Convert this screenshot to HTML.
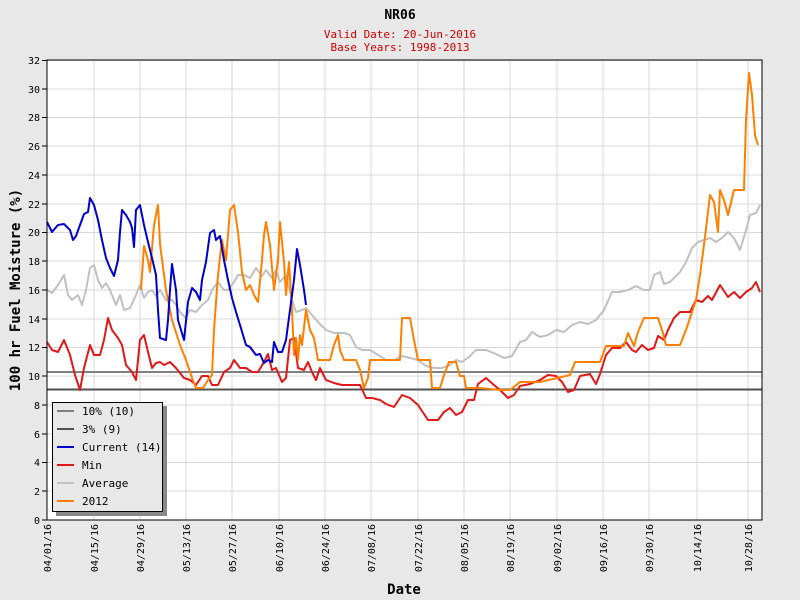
<!DOCTYPE html>
<html><head><meta charset="utf-8"><style>
body{margin:0;background:#e8e8e8;}
svg{display:block;font-family:"DejaVu Sans Mono","Liberation Mono",monospace;}
</style></head><body>
<svg width="800" height="600" viewBox="0 0 800 600">
<rect width="800" height="600" fill="#e8e8e8"/>
<rect x="47" y="60" width="715" height="460" fill="#fff"/>
<g stroke="#d8d8d8" stroke-width="1">
<line x1="47" x2="762" y1="60.5" y2="60.5"/><line x1="47" x2="762" y1="89" y2="89"/><line x1="47" x2="762" y1="117.5" y2="117.5"/><line x1="47" x2="762" y1="146" y2="146"/><line x1="47" x2="762" y1="175" y2="175"/><line x1="47" x2="762" y1="204" y2="204"/><line x1="47" x2="762" y1="232.5" y2="232.5"/><line x1="47" x2="762" y1="261" y2="261"/><line x1="47" x2="762" y1="290" y2="290"/><line x1="47" x2="762" y1="319" y2="319"/><line x1="47" x2="762" y1="347.5" y2="347.5"/><line x1="47" x2="762" y1="376" y2="376"/><line x1="47" x2="762" y1="405" y2="405"/><line x1="47" x2="762" y1="434" y2="434"/><line x1="47" x2="762" y1="462.5" y2="462.5"/><line x1="47" x2="762" y1="491" y2="491"/>
<line y1="60" y2="520" x1="94" x2="94"/><line y1="60" y2="520" x1="140" x2="140"/><line y1="60" y2="520" x1="186" x2="186"/><line y1="60" y2="520" x1="232" x2="232"/><line y1="60" y2="520" x1="279" x2="279"/><line y1="60" y2="520" x1="325" x2="325"/><line y1="60" y2="520" x1="371" x2="371"/><line y1="60" y2="520" x1="418" x2="418"/><line y1="60" y2="520" x1="464" x2="464"/><line y1="60" y2="520" x1="510" x2="510"/><line y1="60" y2="520" x1="557" x2="557"/><line y1="60" y2="520" x1="603" x2="603"/><line y1="60" y2="520" x1="649" x2="649"/><line y1="60" y2="520" x1="697" x2="697"/><line y1="60" y2="520" x1="748" x2="748"/>
</g>
<line x1="47" x2="762" y1="372" y2="372" stroke="#808080" stroke-width="2"/>
<line x1="47" x2="762" y1="389.5" y2="389.5" stroke="#505050" stroke-width="2"/>
<g fill="none" stroke-width="2" stroke-linejoin="round">
<polyline stroke="#c0c0c0" points="47,290 52,293 58,285 64,275 68,295 72,300 78,295 82,305 86,290 90,268 94,265 98,280 102,288 106,283 110,290 116,305 120,295 124,310 130,308 136,295 140,285 144,298 148,292 152,290 156,296 160,290 166,300 172,300 176,305 180,312 186,318 190,310 196,312 202,305 208,300 212,290 218,282 224,290 228,290 234,282 238,275 244,275 250,278 256,268 262,276 266,270 272,278 276,270 280,282 286,275 292,300 296,312 302,310 306,308 312,315 318,322 326,330 334,333 344,333 350,335 356,347 362,350 370,350 378,355 386,360 394,360 402,356 410,358 418,360 426,366 434,368 442,368 450,365 456,360 462,362 470,356 476,350 486,350 496,354 504,358 512,356 520,342 526,340 532,332 540,337 548,335 556,330 564,332 572,325 580,322 588,324 596,320 604,310 612,292 620,292 628,290 636,286 644,290 650,290 654,275 660,272 664,284 670,282 680,272 686,262 692,248 698,242 704,240 710,238 716,242 722,238 728,232 734,238 740,250 746,230 750,215 756,213 760,205"/>
<polyline stroke="#e01818" points="47,342 52,350 58,352 64,340 70,355 75,375 80,390 84,368 90,345 94,355 100,355 104,340 108,318 112,330 118,338 122,345 126,365 132,372 136,380 140,340 144,335 148,352 152,368 156,363 160,362 164,365 170,362 176,368 184,378 190,380 196,385 202,376 208,376 212,385 218,385 224,372 230,368 234,360 240,368 246,368 252,372 258,372 264,362 268,354 272,370 276,368 282,382 286,378 290,340 294,338 298,368 304,370 308,362 312,372 316,380 320,368 326,380 334,383 342,385 350,385 360,385 366,398 372,398 380,400 386,404 394,407 402,395 410,398 418,405 428,420 438,420 444,412 450,408 456,415 462,412 468,400 474,400 478,384 486,378 494,385 500,390 508,398 514,395 520,386 530,384 540,380 548,375 556,376 562,382 568,392 574,390 580,376 590,374 596,384 600,374 606,355 612,348 620,348 626,342 632,350 636,352 642,345 648,350 654,348 658,336 664,340 668,330 674,318 680,312 690,312 696,300 702,302 708,296 712,300 720,285 728,297 734,292 740,298 746,292 752,288 756,282 760,292"/>
<polyline stroke="#ff8000" points="141,290 144,246 148,260 150,272 154,225 158,205 160,244 166,290 172,320 180,345 186,360 192,378 196,388 203,388 208,380 212,375 214,330 218,275 222,240 226,260 230,210 234,205 238,232 242,272 246,290 250,285 254,295 258,302 262,260 264,235 266,222 270,245 274,290 278,260 280,222 284,262 286,295 289,262 292,310 294,355 296,338 298,360 300,335 302,345 306,310 310,330 314,338 318,360 330,360 334,345 338,335 340,350 344,360 356,360 360,370 364,388 368,378 370,360 400,360 402,318 410,318 414,340 418,360 430,360 432,388 440,388 444,375 449,362 456,362 460,376 464,376 466,388 480,388 500,390 510,390 520,382 540,382 570,375 575,362 600,362 606,346 624,346 628,333 634,346 638,332 644,318 658,318 662,330 666,345 680,345 686,330 690,318 696,300 700,275 705,237 710,195 714,202 718,232 720,190 724,200 728,215 734,190 744,190 746,120 749,73 752,95 755,135 758,145"/>
<polyline stroke="#0000cc" points="47,222 52,232 58,225 64,224 70,230 73,240 76,236 80,225 84,214 88,212 90,198 94,205 98,220 102,240 106,258 110,268 114,276 118,260 120,232 122,210 126,215 130,222 132,228 134,247 136,210 140,205 144,225 148,242 152,258 156,275 158,310 160,338 166,340 168,320 170,290 172,264 176,290 178,320 184,340 188,302 192,288 196,292 200,300 202,280 206,262 210,233 214,230 216,240 220,236 224,260 228,280 232,298 236,312 240,325 246,345 250,347 256,355 260,354 264,363 268,360 272,362 274,342 278,352 282,352 286,340 290,310 294,280 297,249 300,265 304,290 306,305"/>
</g>
<rect x="47" y="60" width="715" height="460" fill="none" stroke="#000" stroke-width="1"/>
<g stroke="#000">
<line x1="42" x2="47" y1="60.5" y2="60.5"/><line x1="42" x2="47" y1="89" y2="89"/><line x1="42" x2="47" y1="117.5" y2="117.5"/><line x1="42" x2="47" y1="146" y2="146"/><line x1="42" x2="47" y1="175" y2="175"/><line x1="42" x2="47" y1="204" y2="204"/><line x1="42" x2="47" y1="232.5" y2="232.5"/><line x1="42" x2="47" y1="261" y2="261"/><line x1="42" x2="47" y1="290" y2="290"/><line x1="42" x2="47" y1="319" y2="319"/><line x1="42" x2="47" y1="347.5" y2="347.5"/><line x1="42" x2="47" y1="376" y2="376"/><line x1="42" x2="47" y1="405" y2="405"/><line x1="42" x2="47" y1="434" y2="434"/><line x1="42" x2="47" y1="462.5" y2="462.5"/><line x1="42" x2="47" y1="491" y2="491"/><line x1="42" x2="47" y1="520" y2="520"/>
</g>
<g font-size="10" text-anchor="end" fill="#000">
<text x="40" y="64">32</text><text x="40" y="93">30</text><text x="40" y="121">28</text><text x="40" y="150">26</text><text x="40" y="179">24</text><text x="40" y="208">22</text><text x="40" y="236">20</text><text x="40" y="265">18</text><text x="40" y="294">16</text><text x="40" y="323">14</text><text x="40" y="351">12</text><text x="40" y="380">10</text><text x="40" y="409">8</text><text x="40" y="438">6</text><text x="40" y="466">4</text><text x="40" y="495">2</text><text x="40" y="524">0</text>
</g>
<g font-size="10" text-anchor="end" fill="#000">
<text transform="translate(51,524) rotate(-90)">04/01/16</text>
<text transform="translate(98,524) rotate(-90)">04/15/16</text>
<text transform="translate(144,524) rotate(-90)">04/29/16</text>
<text transform="translate(190,524) rotate(-90)">05/13/16</text>
<text transform="translate(236,524) rotate(-90)">05/27/16</text>
<text transform="translate(283,524) rotate(-90)">06/10/16</text>
<text transform="translate(329,524) rotate(-90)">06/24/16</text>
<text transform="translate(375,524) rotate(-90)">07/08/16</text>
<text transform="translate(422,524) rotate(-90)">07/22/16</text>
<text transform="translate(468,524) rotate(-90)">08/05/16</text>
<text transform="translate(514,524) rotate(-90)">08/19/16</text>
<text transform="translate(561,524) rotate(-90)">09/02/16</text>
<text transform="translate(607,524) rotate(-90)">09/16/16</text>
<text transform="translate(653,524) rotate(-90)">09/30/16</text>
<text transform="translate(701,524) rotate(-90)">10/14/16</text>
<text transform="translate(752,524) rotate(-90)">10/28/16</text>
</g>
<text x="400" y="19" font-size="13" font-weight="bold" text-anchor="middle">NR06</text>
<text x="400" y="38" font-size="11" fill="#cc0000" text-anchor="middle">Valid Date: 20-Jun-2016</text>
<text x="400" y="51" font-size="11" fill="#cc0000" text-anchor="middle">Base Years: 1998-2013</text>
<text x="404" y="594" font-size="14" font-weight="bold" text-anchor="middle">Date</text>
<text transform="translate(20,290) rotate(-90)" font-size="14" font-weight="bold" text-anchor="middle">100 hr Fuel Moisture (%)</text>
<rect x="56" y="406" width="111" height="110" fill="#888"/>
<rect x="52.5" y="402.5" width="110" height="109" fill="#e8e8e8" stroke="#000"/>
<g stroke-width="2">
<line x1="57" x2="74" y1="411" y2="411" stroke="#808080"/>
<line x1="57" x2="74" y1="429" y2="429" stroke="#505050"/>
<line x1="57" x2="74" y1="447" y2="447" stroke="#0000cc"/>
<line x1="57" x2="74" y1="465" y2="465" stroke="#e01818"/>
<line x1="57" x2="74" y1="483" y2="483" stroke="#c0c0c0"/>
<line x1="57" x2="74" y1="501" y2="501" stroke="#ff8000"/>
</g>
<g font-size="11">
<text x="82" y="415">10% (10)</text><text x="82" y="433">3% (9)</text><text x="82" y="451">Current (14)</text><text x="82" y="469">Min</text><text x="82" y="487">Average</text><text x="82" y="505">2012</text>
</g>
</svg>
</body></html>
